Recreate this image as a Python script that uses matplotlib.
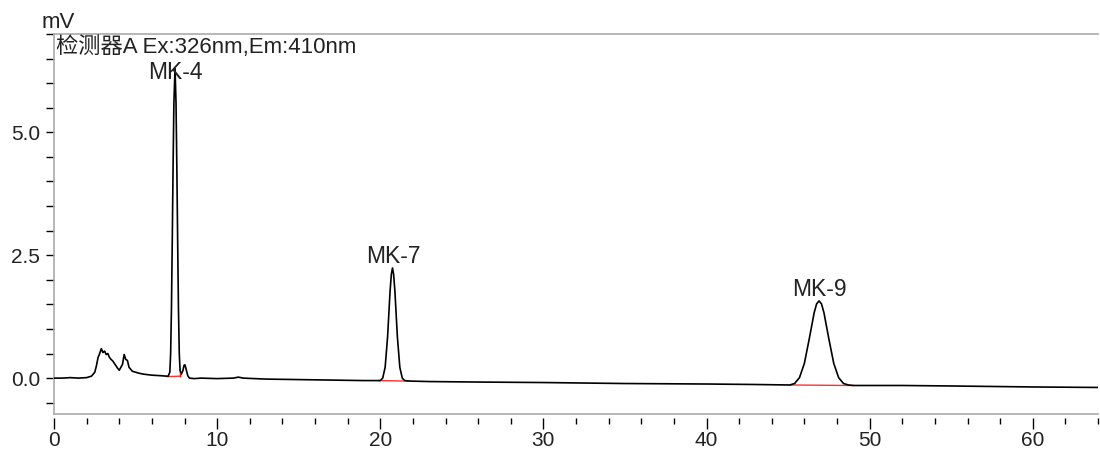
import matplotlib
matplotlib.use("Agg")
import matplotlib.pyplot as plt
from matplotlib.ticker import MultipleLocator, FormatStrFormatter

plt.rcParams['font.family'] = ['Liberation Sans', 'Noto Sans CJK SC', 'DejaVu Sans']

# chromatogram trace (min, mV)
t = [0.0, 0.5, 1.0, 1.5, 2.0, 2.3, 2.5, 2.6, 2.7, 2.8, 2.9, 3.0, 3.1, 3.2, 3.3, 3.4,
     3.5, 3.6, 3.7, 3.8, 3.9, 4.0, 4.1, 4.2, 4.3, 4.4, 4.5, 4.6, 4.7, 4.8, 5.0, 5.2,
     5.5, 6.0, 6.5, 6.9, 7.0, 7.1, 7.15, 7.2, 7.25, 7.3, 7.35, 7.42, 7.48, 7.53, 7.58,
     7.63, 7.68, 7.73, 7.8, 7.9, 7.97, 8.03, 8.1, 8.2, 8.3, 8.6, 9.0, 10.0, 11.0, 11.3,
     11.6, 13.0, 15.0, 17.0, 19.0, 20.0, 20.15, 20.3, 20.45, 20.6, 20.68, 20.75, 20.82,
     20.9, 21.05, 21.2, 21.35, 21.5, 21.8, 23.0, 26.0, 30.0, 35.0, 40.0, 43.0, 45.1,
     45.4, 45.7, 46.0, 46.3, 46.6, 46.75, 46.9, 47.05, 47.2, 47.5, 47.8, 48.1, 48.4,
     48.7, 49.0, 52.0, 55.0, 60.0, 64.0]
mv = [0.0, 0.0, 0.01, 0.0, 0.01, 0.04, 0.12, 0.25, 0.42, 0.50, 0.60, 0.52, 0.55, 0.48,
      0.50, 0.42, 0.38, 0.35, 0.30, 0.25, 0.20, 0.16, 0.22, 0.28, 0.48, 0.38, 0.36,
      0.22, 0.18, 0.14, 0.12, 0.10, 0.08, 0.06, 0.05, 0.04, 0.04, 0.12, 0.5, 1.4, 2.8,
      4.3, 5.6, 6.3, 5.6, 4.3, 2.8, 1.4, 0.5, 0.15, 0.08, 0.15, 0.26, 0.27, 0.18, 0.05,
      0.0, -0.01, 0.0, -0.01, 0.0, 0.02, 0.0, -0.02, -0.03, -0.04, -0.05, -0.05, 0.0,
      0.22, 0.84, 1.76, 2.11, 2.24, 2.11, 1.76, 0.84, 0.22, 0.0, -0.05, -0.06, -0.07,
      -0.08, -0.09, -0.11, -0.12, -0.13, -0.14, -0.11, 0.01, 0.30, 0.80, 1.33, 1.51,
      1.57, 1.51, 1.33, 0.80, 0.30, 0.01, -0.11, -0.14, -0.15, -0.15, -0.16, -0.18,
      -0.19]

# peaks
peak_names = ['MK-4', 'MK-7', 'MK-9']
peak_t = [7.42, 20.75, 46.9]
peak_h = [6.3, 2.24, 1.57]

# integration baselines (red)
bl_t0 = [6.93, 19.9, 45.15]
bl_t1 = [7.73, 21.7, 49.0]
bl_y0 = [0.03, -0.05, -0.14]
bl_y1 = [0.04, -0.06, -0.15]
bl_drop = [0.10, None, None]

fig = plt.figure(figsize=(11, 4.5), dpi=100)
ax = fig.add_axes([54 / 1100, 36 / 450, 1044 / 1100, 380 / 450])

ax.plot(t, mv, color='black', lw=1.2, zorder=3)
for a, b, y0, y1, d in zip(bl_t0, bl_t1, bl_y0, bl_y1, bl_drop):
    ax.plot([a, b], [y0, y1], color='#ff3030', lw=1.0, zorder=2)
    if d is not None:
        ax.plot([b, b], [y1, d], color='#ff0000', lw=1.0, zorder=4)

for name, x, h in zip(peak_names, peak_t, peak_h):
    ax.text(x + 0.05, min(h + 0.11, 6.08), name, ha='center', va='baseline',
            fontsize=16.5, color='#222222')

ax.set_xlim(0, 64)
ax.set_ylim(-0.73, 7.0)
ax.xaxis.set_major_locator(MultipleLocator(10))
ax.xaxis.set_minor_locator(MultipleLocator(2))
ax.yaxis.set_major_locator(MultipleLocator(2.5))
ax.yaxis.set_minor_locator(MultipleLocator(0.5))
ax.yaxis.set_major_formatter(FormatStrFormatter('%.1f'))

ax.tick_params(axis='x', which='major', length=8, width=1.0, pad=1, labelsize=15,
               colors='black', labelcolor='#222222')
ax.tick_params(axis='x', which='minor', length=4, width=1.0, colors='black')
ax.tick_params(axis='y', which='both', length=6, width=1.0, pad=4, labelsize=15,
               colors='black', labelcolor='#222222')

ax.spines['right'].set_visible(False)
for s in ['left', 'top']:
    ax.spines[s].set_color('#aaaaaa')
    ax.spines[s].set_linewidth(1.2)
ax.spines['bottom'].set_position(('outward', 3))
ax.spines['bottom'].set_visible(False)
ax.plot([0, 1], [0, 0], transform=ax.transAxes, color='#aaaaaa', lw=1.2, clip_on=False)

ax.text(0.002, 0.995, '检测器A Ex:326nm,Em:410nm', transform=ax.transAxes,
        ha='left', va='top', fontsize=16, color='#222222')
fig.text(42 / 1100, 1 - 28 / 450, 'mV', ha='left', va='baseline', fontsize=16,
         color='#222222')

fig.savefig('out.png', dpi=100)
